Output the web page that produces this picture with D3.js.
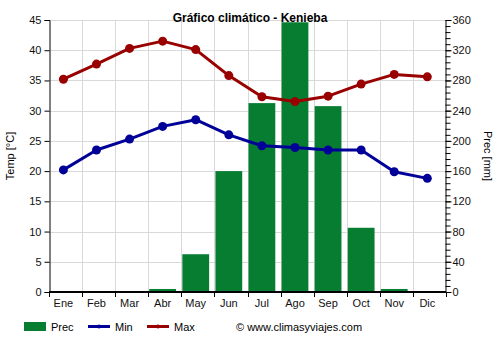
<!DOCTYPE html>
<html>
<head>
<meta charset="utf-8">
<script src="https://cdn.jsdelivr.net/npm/d3@7"></script>
<style>
  body { margin: 0; background: #fff; }
  svg text { font-family: "Liberation Sans", Arial, sans-serif; }
</style>
</head>
<body>
<svg id="chart" width="500" height="350"></svg>
<script>
// Monthly climate data for Kenieba
const months = ["Ene","Feb","Mar","Abr","May","Jun","Jul","Ago","Sep","Oct","Nov","Dic"];
const prec = [0.5, 0.8, 0.8, 4, 50, 160, 250, 357, 246, 85, 4, 1];
const tMin = [20.2, 23.5, 25.3, 27.4, 28.5, 26.0, 24.2, 23.9, 23.5, 23.5, 19.9, 18.8];
const tMax = [35.2, 37.7, 40.3, 41.5, 40.1, 35.8, 32.3, 31.5, 32.4, 34.4, 36.0, 35.6];
const tempTicks = [0, 5, 10, 15, 20, 25, 30, 35, 40, 45];
const precTicks = [0, 40, 80, 120, 160, 200, 240, 280, 320, 360];

const svg = d3.select("#chart");
const pL = 49, pR = 446, pT = 20, pB = 292;

const x = d3.scaleBand().domain(months).range([pL, pR]);
const yT = d3.scaleLinear().domain([0, 45]).range([pB, pT]);
const yP = d3.scaleLinear().domain([0, 360]).range([pB, pT]);
const barW = x.bandwidth() * 0.81;
const cx = m => x(m) + 1 + barW / 2;

// grid
const grid = svg.append("g").attr("stroke", "#d9d9d9").attr("stroke-width", 1);
tempTicks.filter(t => t > 0).forEach(t => {
  grid.append("line").attr("x1", pL).attr("x2", pR)
    .attr("y1", Math.round(yT(t)) + 0.5).attr("y2", Math.round(yT(t)) + 0.5);
});
months.slice(1).forEach(m => {
  grid.append("line").attr("x1", Math.round(x(m)) + 0.5).attr("x2", Math.round(x(m)) + 0.5)
    .attr("y1", pT).attr("y2", pB);
});

// precipitation bars
svg.append("g").selectAll("rect").data(months).join("rect")
  .attr("x", m => x(m) + 1)
  .attr("width", barW)
  .attr("y", (m, i) => yP(prec[i]))
  .attr("height", (m, i) => pB - yP(prec[i]))
  .attr("fill", "#077d32");

// temperature lines
function drawSeries(vals, color) {
  const line = d3.line().x((d, i) => cx(months[i])).y(d => yT(d));
  svg.append("path").datum(vals).attr("d", line)
    .attr("fill", "none").attr("stroke", color).attr("stroke-width", 3)
    .attr("stroke-linejoin", "round");
  svg.append("g").selectAll("circle").data(vals).join("circle")
    .attr("cx", (d, i) => cx(months[i])).attr("cy", d => yT(d))
    .attr("r", 4.5).attr("fill", color);
}
drawSeries(tMax, "#990000");
drawSeries(tMin, "#000099");

// left axis
const axL = svg.append("g").attr("transform", `translate(${pL + 0.5},0)`)
  .call(d3.axisLeft(yT).tickValues(tempTicks).tickSize(5).tickPadding(3));
axL.select(".domain").attr("stroke", "#000");
axL.selectAll("line").attr("stroke", "#000");
axL.selectAll("text").attr("font-size", 11).attr("fill", "#111");

// right axis with minor ticks
const minor = d3.range(0, 361, 8);
const axRm = svg.append("g").attr("transform", `translate(${pR - 0.5},0)`)
  .call(d3.axisRight(yP).tickValues(minor).tickSize(5).tickFormat(""));
axRm.select(".domain").attr("stroke", "#000");
axRm.selectAll("line").attr("stroke", "#000");
const axR = svg.append("g").attr("transform", `translate(${pR - 0.5},0)`)
  .call(d3.axisRight(yP).tickValues(precTicks).tickSize(6).tickPadding(1));
axR.select(".domain").remove();
axR.selectAll("line").attr("stroke", "#000");
axR.selectAll("text").attr("font-size", 11).attr("fill", "#111");

// bottom axis
const axB = svg.append("g").attr("transform", `translate(0,${pB})`)
  .call(d3.axisBottom(x).tickSize(0).tickPadding(7));
axB.select(".domain").remove();
axB.selectAll("text").attr("font-size", 11).attr("fill", "#111")
  .attr("x", m => cx(m) - x(m) - x.bandwidth() / 2);
svg.append("line").attr("x1", pL).attr("x2", pR)
  .attr("y1", pB).attr("y2", pB).attr("stroke", "#000").attr("stroke-width", 2);
svg.append("g").selectAll("line").data(months.concat(["end"])).join("line")
  .attr("x1", (m, i) => Math.round(pL + i * x.bandwidth()) + 0.5)
  .attr("x2", (m, i) => Math.round(pL + i * x.bandwidth()) + 0.5)
  .attr("y1", pB).attr("y2", pB + 5).attr("stroke", "#000");

// titles
svg.append("text").attr("x", 250).attr("y", 22).attr("text-anchor", "middle")
  .attr("font-size", 12).attr("font-weight", "bold").text("Gráfico climático - Kenieba");
svg.append("text").attr("transform", `translate(14,156) rotate(-90)`)
  .attr("text-anchor", "middle").attr("font-size", 11).text("Temp [°C]");
svg.append("text").attr("transform", `translate(484,156) rotate(90)`)
  .attr("text-anchor", "middle").attr("font-size", 11).text("Prec [mm]");

// legend
const lg = svg.append("g").attr("font-size", 11);
lg.append("rect").attr("x", 24).attr("y", 322).attr("width", 22).attr("height", 9).attr("fill", "#077d32");
lg.append("text").attr("x", 51).attr("y", 331).text("Prec");
lg.append("line").attr("x1", 88).attr("x2", 110).attr("y1", 326.5).attr("y2", 326.5)
  .attr("stroke", "#000099").attr("stroke-width", 3);
lg.append("circle").attr("cx", 99).attr("cy", 326.5).attr("r", 2).attr("fill", "#000099");
lg.append("text").attr("x", 115).attr("y", 331).text("Min");
lg.append("line").attr("x1", 147).attr("x2", 169).attr("y1", 326.5).attr("y2", 326.5)
  .attr("stroke", "#990000").attr("stroke-width", 3);
lg.append("circle").attr("cx", 158).attr("cy", 326.5).attr("r", 2).attr("fill", "#990000");
lg.append("text").attr("x", 174).attr("y", 331).text("Max");
lg.append("text").attr("x", 236).attr("y", 331).text("© www.climasyviajes.com");
</script>
</body>
</html>
